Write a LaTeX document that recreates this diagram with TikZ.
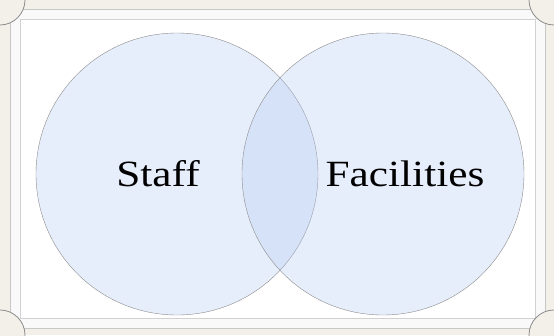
\documentclass[tikz,border=0pt]{standalone}
\usepackage{fontspec}
\setmainfont{Liberation Serif}
\begin{document}
\begin{tikzpicture}[x=1pt,y=-1pt,
  frameband/.style={fill=bandcol,draw=black!22,line width=0.6pt},
  inner/.style={fill=white,draw=black!18,line width=0.5pt},
  cutout/.style={fill=bgcol,draw=black!45,line width=0.8pt},
  venn/.style={circle,minimum size=282pt,inner sep=0pt,fill=venncol,fill opacity=0.3,draw=black!45,line width=0.4pt},
  lbl/.style={font=\fontsize{37}{42}\selectfont,text=black,xscale=1.17}]
\definecolor{bgcol}{RGB}{243,239,233}
\definecolor{bandcol}{RGB}{249,249,249}
\definecolor{venncol}{RGB}{178,200,242}
\useasboundingbox (0,0) rectangle (554,335);
\fill[bgcol] (0,0) rectangle (554,335);
\draw[frameband] (10,9) rectangle (545,328);
\draw[inner] (20,19) rectangle (535,318);
\draw[cutout] (0,0) circle (25);
\draw[cutout] (554,0) circle (25);
\draw[cutout] (0,335) circle (25);
\draw[cutout] (554,335) circle (25);
\node[venn] (staff) at (177,174) {};
\node[venn] (fac) at (383,174) {};
\node[lbl] (stafftext) at (158,174) {Staff};
\node[lbl] (factext) at (405,174) {Facilities};
\end{tikzpicture}
\end{document}
